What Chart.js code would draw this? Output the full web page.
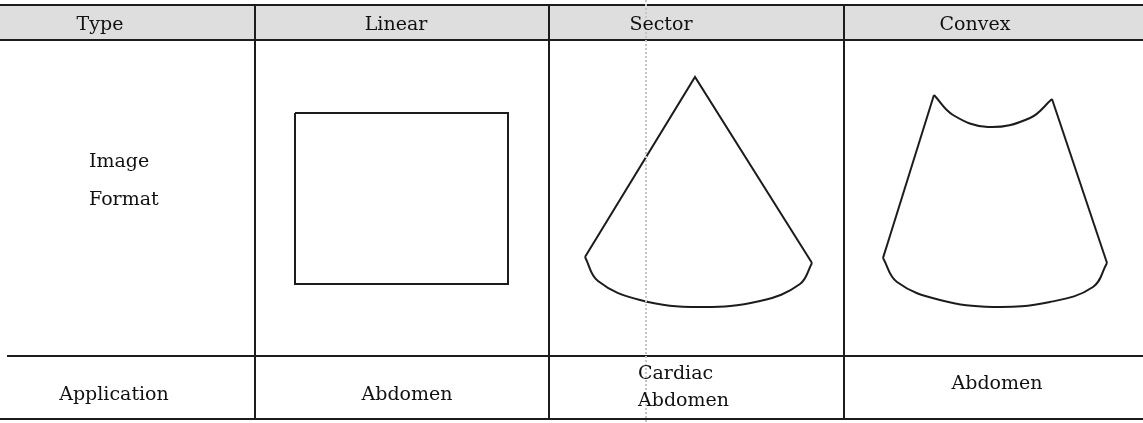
<!DOCTYPE html>
<html>
<head>
<meta charset="utf-8">
<script src="https://cdn.jsdelivr.net/npm/chart.js@4/dist/chart.umd.min.js"></script>
<style>
    html, body { margin: 0; padding: 0; background: #ffffff; }
    #wrap { width: 1143px; height: 423px; }
</style>
</head>
<body>
<div id="wrap"><canvas id="chart" width="1143" height="423"></canvas></div>
<script>
// Textos da tabela
const headers = ['Type', 'Linear', 'Sector', 'Convex'];
const formatLabel = ['Image', 'Format'];
const applicationLabel = ['Application'];
const applications = [['Abdomen'], ['Cardiac', 'Abdomen'], ['Abdomen']];

// Linhas da tabela (unidades do eixo)
const hLineY = [5, 40, 356, 419];
const hLineStart = [0, 0, 7, 0];
const vLineX = [255, 549, 844];
const tableRight = 1143;

// Formato linear (retângulo)
const linearX = [295, 508, 508, 295, 295];
const linearY = [113, 113, 284, 284, 113];

// Formato setorial
const sectorEdgeX = [585, 695, 812];
const sectorEdgeY = [257, 77, 263];
const sectorArcX = [585, 598, 640, 700, 760, 800, 812];
const sectorArcY = [257, 281, 300, 307, 301, 284, 263];

// Formato convexo
const convexLeftX = [934, 883];
const convexLeftY = [95, 258];
const convexRightX = [1052, 1107];
const convexRightY = [99, 263];
const convexTopX = [934, 953, 988, 1030, 1052];
const convexTopY = [95, 115, 127, 118, 99];
const convexBottomX = [883, 897, 940, 993, 1050, 1093, 1107];
const convexBottomY = [258, 282, 300, 307, 302, 287, 263];

const ink = '#1c1c1c';

function toPoints(xs, ys) {
    return xs.map((x, i) => ({ x: x, y: ys[i] }));
}

function lineSet(points, opts = {}) {
    return Object.assign({
        type: 'line',
        data: points,
        borderColor: ink,
        borderWidth: 2,
        pointRadius: 0,
        fill: false,
        tension: 0,
        parsing: false
    }, opts);
}

// Montar datasets
const datasets = [];

// Mancha vertical do scan
datasets.push(lineSet(toPoints([646, 646], [0, 423]), {
    borderColor: '#c4c4c4', borderWidth: 2, borderDash: [2, 2]
}));

hLineY.forEach((y, i) => {
    datasets.push(lineSet(toPoints([hLineStart[i], tableRight], [y, y])));
});
vLineX.forEach(x => {
    datasets.push(lineSet(toPoints([x, x], [hLineY[0], hLineY[3]])));
});

datasets.push(lineSet(toPoints(linearX, linearY)));
datasets.push(lineSet(toPoints(sectorEdgeX, sectorEdgeY)));
datasets.push(lineSet(toPoints(sectorArcX, sectorArcY), { tension: 0.4 }));
datasets.push(lineSet(toPoints(convexLeftX, convexLeftY)));
datasets.push(lineSet(toPoints(convexRightX, convexRightY)));
datasets.push(lineSet(toPoints(convexTopX, convexTopY), { tension: 0.4 }));
datasets.push(lineSet(toPoints(convexBottomX, convexBottomY), { tension: 0.4 }));

// Posições dos textos
const headerPos = [100, 396, 661, 975];
const textFont = '19px "DejaVu Serif"';

// Plugin: fundo do cabeçalho
const headerBg = {
    id: 'headerBg',
    beforeDatasetsDraw(chart) {
        const { ctx, scales: { x, y } } = chart;
        ctx.save();
        ctx.fillStyle = '#dedede';
        const top = y.getPixelForValue(hLineY[0]);
        const bottom = y.getPixelForValue(hLineY[1]);
        ctx.fillRect(x.getPixelForValue(0), top, x.getPixelForValue(tableRight) - x.getPixelForValue(0), bottom - top);
        ctx.restore();
    }
};

// Plugin: textos da tabela
const tableText = {
    id: 'tableText',
    afterDatasetsDraw(chart) {
        const { ctx, scales: { x, y } } = chart;
        ctx.save();
        ctx.font = textFont;
        ctx.fillStyle = '#111111';
        ctx.textBaseline = 'alphabetic';

        ctx.textAlign = 'center';
        headers.forEach((h, i) => {
            ctx.fillText(h, x.getPixelForValue(headerPos[i]), y.getPixelForValue(30));
        });

        ctx.textAlign = 'left';
        ctx.fillText(formatLabel[0], x.getPixelForValue(89), y.getPixelForValue(167));
        ctx.fillText(formatLabel[1], x.getPixelForValue(89), y.getPixelForValue(205));

        ctx.textAlign = 'center';
        ctx.fillText(applicationLabel[0], x.getPixelForValue(114), y.getPixelForValue(400));
        ctx.fillText(applications[0][0], x.getPixelForValue(407), y.getPixelForValue(400));

        ctx.textAlign = 'left';
        ctx.fillText(applications[1][0], x.getPixelForValue(638), y.getPixelForValue(379));
        ctx.fillText(applications[1][1], x.getPixelForValue(638), y.getPixelForValue(406));

        ctx.textAlign = 'center';
        ctx.fillText(applications[2][0], x.getPixelForValue(997), y.getPixelForValue(389));
        ctx.restore();
    }
};

const chart = new Chart(document.getElementById('chart').getContext('2d'), {
    type: 'scatter',
    data: { datasets: datasets },
    options: {
        responsive: false,
        animation: false,
        devicePixelRatio: 1,
        layout: { padding: 0 },
        plugins: {
            legend: { display: false },
            tooltip: { enabled: false }
        },
        scales: {
            x: { type: 'linear', min: 0, max: 1143, display: false },
            y: { type: 'linear', min: 0, max: 423, reverse: true, display: false }
        }
    },
    plugins: [headerBg, tableText]
});
</script>
</body>
</html>
